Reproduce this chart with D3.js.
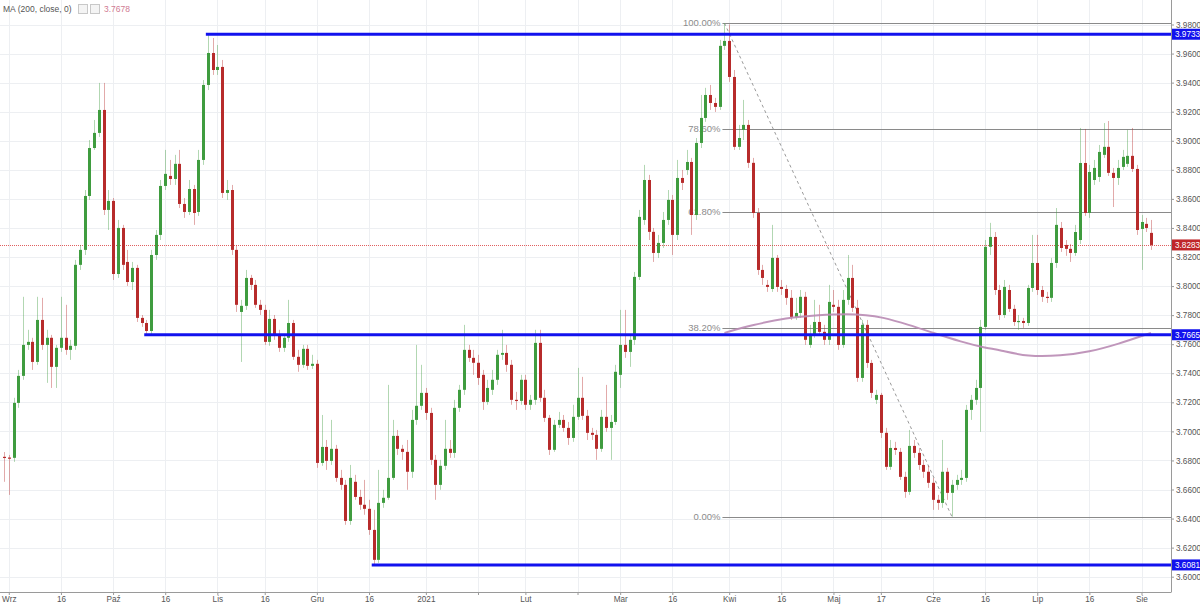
<!DOCTYPE html>
<html><head><meta charset="utf-8">
<script src="https://cdn.jsdelivr.net/npm/d3@7/dist/d3.min.js"></script>
<style>html,body{margin:0;padding:0;background:#fff;}svg{display:block;font-family:"Liberation Sans",Arial,sans-serif;}</style>
</head><body>
<svg id="chart" width="1200" height="604"></svg>
<script>
// ---- DATA (USD/PLN daily, weekdays 2020-08-31 .. 2021-08-04) ----
const firstDay = "2020-08-31", lastDay = "2021-08-04";
const open = [
3.6825,3.6820,3.6818,3.7196,3.7382,3.7595,3.7616,3.7478,3.7767,3.7595,
3.7644,3.7444,3.7575,3.7644,3.7561,3.7589,3.8146,3.8249,3.8620,3.8950,
3.9054,3.9212,3.8524,3.8586,3.8083,3.8400,3.8166,3.8028,3.8125,3.7781,
3.7746,3.7691,3.8214,3.8352,3.8689,3.8758,3.8737,3.8841,3.8565,3.8510,
3.8668,3.8510,3.8868,3.9384,3.9604,3.9487,3.9508,3.8641,3.8661,3.8249,
3.7822,3.7864,3.8056,3.8008,3.7871,3.7836,3.7616,3.7774,3.7664,3.7575,
3.7644,3.7746,3.7513,3.7458,3.7568,3.7451,3.7465,3.6783,3.6893,3.6797,
3.6880,3.6680,3.6632,3.6384,3.6653,3.6549,3.6495,3.6467,3.6322,3.6116,
3.6508,3.6543,3.6680,3.6969,3.6880,3.6859,3.6722,3.7079,3.7176,3.7265,
3.7127,3.6804,3.6632,3.6763,3.6880,3.6852,3.7162,3.7286,3.7561,3.7506,
3.7472,3.7389,3.7203,3.7286,3.7355,3.7527,3.7540,3.7458,3.7217,3.7210,
3.7355,3.7183,3.7217,3.7609,3.7231,3.7093,3.6873,3.7045,3.7079,3.7024,
3.6955,3.7100,3.7231,3.7107,3.6990,3.6976,3.6880,3.7100,3.7024,3.7065,
3.7389,3.7595,3.7547,3.7630,3.8063,3.8455,3.8730,3.8373,3.8228,3.8297,
3.8455,3.8593,3.8352,3.8744,3.8799,3.8854,3.8489,3.8985,3.9157,3.9315,
3.9260,3.9233,3.9653,3.9687,3.9439,3.8958,3.9075,3.9109,3.8848,3.8503,
3.8111,3.8008,3.7980,3.8194,3.7994,3.7980,3.7919,3.7788,3.7815,3.7926,
3.7595,3.7664,3.7753,3.7685,3.7630,3.7871,3.7857,3.7595,3.7905,3.8056,
3.7850,3.7368,3.7733,3.7471,3.7217,3.7251,3.6990,3.6756,3.6886,3.6859,
3.6687,3.6584,3.6900,3.6852,3.6769,3.6722,3.6646,3.6529,3.6508,3.6722,
3.6577,3.6632,3.6666,3.6680,3.7148,3.7217,3.7299,3.7719,3.8270,3.8338,
3.7973,3.7801,3.7973,3.7843,3.7753,3.7760,3.7746,3.7987,3.8159,3.7973,
3.7926,3.7919,3.8159,3.8400,3.8283,3.8256,3.8228,3.8317,3.8847,3.8503,
3.8730,3.8751,3.8903,3.8958,3.8779,3.8744,3.8820,3.8841,3.8896,3.8806,
3.8393,3.8428,3.8366];
const high = [
3.6858,3.6838,3.7231,3.7423,3.7926,3.7699,3.7644,3.7926,3.7919,3.7699,
3.7664,3.7595,3.7926,3.7871,3.7630,3.8180,3.8283,3.8661,3.9005,3.9143,
3.9398,3.9398,3.8661,3.8606,3.8455,3.8421,3.8249,3.8166,3.8146,3.7801,
3.7767,3.8249,3.8386,3.8730,3.8937,3.8868,3.8903,3.8937,3.8606,3.8730,
3.8696,3.8937,3.9418,3.9733,3.9707,3.9659,3.9556,3.8730,3.8696,3.8283,
3.7905,3.8111,3.8077,3.8042,3.7905,3.7871,3.7836,3.7801,3.7699,3.7671,
3.7905,3.7767,3.7561,3.7595,3.7595,3.7527,3.7492,3.7113,3.6941,3.7079,
3.6907,3.6735,3.6666,3.6769,3.6701,3.6598,3.6666,3.6529,3.6460,3.6735,
3.6598,3.7320,3.7079,3.7010,3.6907,3.6941,3.7148,3.7595,3.7458,3.7299,
3.7162,3.6838,3.6804,3.7079,3.6941,3.7217,3.7320,3.7733,3.7595,3.7561,
3.7527,3.7423,3.7355,3.7423,3.7561,3.7699,3.7595,3.7492,3.7272,3.7389,
3.7389,3.7251,3.7699,3.7699,3.7286,3.7113,3.7079,3.7134,3.7113,3.7065,
3.7183,3.7437,3.7375,3.7148,3.7024,3.7010,3.7148,3.7320,3.7113,3.7458,
3.7836,3.7836,3.7664,3.8097,3.8524,3.8834,3.8765,3.8400,3.8352,3.8510,
3.8661,3.8627,3.8868,3.8799,3.8937,3.8882,3.9019,3.9315,3.9364,3.9384,
3.9295,3.9694,3.9810,3.9800,3.9487,3.9109,3.9281,3.9143,3.8882,3.8537,
3.8146,3.8042,3.8421,3.8214,3.8042,3.8008,3.7973,3.7919,3.7973,3.7960,
3.7733,3.7905,3.7871,3.7733,3.8008,3.7973,3.7905,3.7973,3.8214,3.8146,
3.7905,3.7767,3.7767,3.7492,3.7286,3.7265,3.7024,3.6941,3.6928,3.6886,
3.6722,3.7010,3.6941,3.6886,3.6804,3.6763,3.6680,3.6563,3.6941,3.6749,
3.6666,3.6701,3.6735,3.7182,3.7251,3.7355,3.7767,3.8317,3.8435,3.8372,
3.8008,3.8042,3.8008,3.7871,3.7801,3.7781,3.8008,3.8352,3.8352,3.8001,
3.7960,3.8194,3.8537,3.8441,3.8317,3.8290,3.8421,3.9088,3.9081,3.8834,
3.8868,3.8971,3.9122,3.9136,3.8813,3.8868,3.8937,3.9075,3.9088,3.8834,
3.8490,3.8469,3.8455];
const low = [
3.6653,3.6563,3.6790,3.7162,3.7355,3.7561,3.7423,3.7458,3.7561,3.7334,
3.7299,3.7299,3.7547,3.7527,3.7492,3.7561,3.8111,3.8214,3.8593,3.8937,
3.9026,3.8489,3.8386,3.8042,3.8056,3.8111,3.8001,3.7973,3.7753,3.7719,
3.7665,3.7670,3.8180,3.8317,3.8661,3.8696,3.8696,3.8537,3.8469,3.8489,
3.8421,3.8483,3.8834,3.9349,3.9453,3.9453,3.8606,3.8593,3.8214,3.7822,
3.7478,3.7836,3.7973,3.7850,3.7801,3.7595,3.7589,3.7630,3.7547,3.7547,
3.7616,3.7492,3.7410,3.7437,3.7423,3.7430,3.6749,3.6763,3.6735,3.6769,
3.6653,3.6598,3.6357,3.6357,3.6529,3.6460,3.6426,3.6288,3.6081,3.6095,
3.6474,3.6529,3.6666,3.6838,3.6804,3.6598,3.6680,3.7045,3.7148,3.7079,
3.6769,3.6529,3.6598,3.6735,3.6818,3.6818,3.7134,3.7251,3.7478,3.7389,
3.7320,3.7148,3.7183,3.7251,3.7320,3.7492,3.7410,3.7183,3.7148,3.7183,
3.7148,3.7148,3.7183,3.7203,3.7065,3.6838,3.6859,3.7024,3.6997,3.6907,
3.6928,3.7079,3.7079,3.6941,3.6941,3.6804,3.6859,3.6997,3.6804,3.7045,
3.7299,3.7506,3.7444,3.7595,3.8042,3.8421,3.8317,3.8166,3.8194,3.8263,
3.8421,3.8214,3.8317,3.8661,3.8765,3.8352,3.8455,3.8950,3.9130,3.9212,
3.9198,3.9212,3.9625,3.9405,3.8937,3.8937,3.9005,3.8813,3.8469,3.8077,
3.8008,3.7960,3.7960,3.7960,3.7939,3.7871,3.7767,3.7767,3.7781,3.7595,
3.7575,3.7644,3.7657,3.7595,3.7595,3.7822,3.7561,3.7575,3.7871,3.7822,
3.7341,3.7341,3.7437,3.7230,3.7189,3.6955,3.6735,3.6735,3.6838,3.6666,
3.6543,3.6563,3.6818,3.6735,3.6680,3.6611,3.6460,3.6460,3.6474,3.6529,
3.6413,3.6598,3.6632,3.6653,3.7079,3.7183,3.6997,3.7699,3.8214,3.7939,
3.7767,3.7781,3.7822,3.7726,3.7699,3.7712,3.7726,3.7960,3.7939,3.7891,
3.7884,3.7891,3.8125,3.8235,3.8208,3.8166,3.8208,3.8290,3.8483,3.8469,
3.8696,3.8717,3.8882,3.8758,3.8544,3.8696,3.8799,3.8820,3.8785,3.8352,
3.8111,3.8372,3.8249];
const close = [
3.6820,3.6818,3.7196,3.7382,3.7595,3.7616,3.7478,3.7767,3.7595,3.7644,
3.7444,3.7575,3.7644,3.7561,3.7589,3.8146,3.8249,3.8620,3.8950,3.9054,
3.9212,3.8524,3.8586,3.8083,3.8400,3.8146,3.8028,3.8125,3.7781,3.7746,
3.7691,3.8214,3.8352,3.8689,3.8772,3.8737,3.8841,3.8565,3.8510,3.8668,
3.8503,3.8868,3.9384,3.9604,3.9487,3.9508,3.8641,3.8661,3.8249,3.7871,
3.7864,3.8056,3.8008,3.7871,3.7836,3.7616,3.7774,3.7664,3.7575,3.7644,
3.7746,3.7513,3.7458,3.7568,3.7451,3.7465,3.6783,3.6893,3.6797,3.6880,
3.6680,3.6632,3.6384,3.6680,3.6549,3.6495,3.6467,3.6322,3.6116,3.6508,
3.6543,3.6680,3.6969,3.6880,3.6859,3.6722,3.7079,3.7176,3.7265,3.7127,
3.6804,3.6632,3.6763,3.6880,3.6852,3.7162,3.7286,3.7561,3.7506,3.7472,
3.7368,3.7203,3.7299,3.7355,3.7527,3.7540,3.7458,3.7217,3.7210,3.7355,
3.7183,3.7217,3.7609,3.7231,3.7093,3.6873,3.7045,3.7079,3.7024,3.6955,
3.7100,3.7231,3.7107,3.6990,3.6976,3.6880,3.7100,3.7024,3.7065,3.7410,
3.7595,3.7547,3.7630,3.8063,3.8476,3.8730,3.8373,3.8228,3.8297,3.8455,
3.8593,3.8352,3.8744,3.8710,3.8854,3.8489,3.8985,3.9157,3.9315,3.9260,
3.9233,3.9653,3.9687,3.9439,3.8958,3.9019,3.9109,3.8848,3.8503,3.8111,
3.8056,3.7994,3.8194,3.7994,3.7980,3.7919,3.7788,3.7815,3.7926,3.7630,
3.7664,3.7753,3.7685,3.7630,3.7891,3.7857,3.7595,3.7905,3.8056,3.7850,
3.7368,3.7733,3.7471,3.7265,3.7251,3.6990,3.6756,3.6886,3.6872,3.6687,
3.6584,3.6900,3.6852,3.6769,3.6722,3.6646,3.6529,3.6508,3.6722,3.6577,
3.6632,3.6666,3.6680,3.7148,3.7217,3.7299,3.7719,3.8270,3.8338,3.7973,
3.7801,3.7994,3.7843,3.7753,3.7760,3.7746,3.7987,3.8159,3.7973,3.7926,
3.7919,3.8159,3.8421,3.8262,3.8256,3.8228,3.8372,3.8847,3.8503,3.8785,
3.8813,3.8923,3.8958,3.8779,3.8744,3.8813,3.8889,3.8896,3.8806,3.8386,
3.8441,3.8400,3.8283];

// MA(200, close) readings
const maDates  = ["2021-03-31","2021-04-08","2021-04-19","2021-04-28","2021-05-06","2021-05-12","2021-05-17","2021-05-25","2021-06-01","2021-06-09","2021-06-16","2021-06-21","2021-06-29","2021-07-08","2021-07-16","2021-07-26","2021-08-04"];
const maValues = [3.7678,3.7733,3.7781,3.7801,3.7808,3.7801,3.7788,3.7733,3.7678,3.7616,3.7575,3.7561,3.7513,3.7520,3.7547,3.7600,3.7678];

// horizontal support/resistance lines
const levelValues = [3.9733, 3.7665, 3.6081];
const levelStart  = ["2020-10-29","2020-10-12","2020-12-17"];

// Fibonacci retracement
const fibHigh = 3.9810, fibLow = 3.6413;
const fibFrom = "2021-03-31", fibTo = "2021-06-07";
const fibRatios = [1, 0.786, 0.618, 0.382, 0];
const fibLabels = ["100.00%","78.60%","61.80%","38.20%","0.00%"];

// axis ticks
const tickDates  = ["2020-09-01","2020-09-16","2020-10-01","2020-10-16","2020-11-02","2020-11-16","2020-12-01","2020-12-16","2021-01-01","2021-01-18","2021-02-01","2021-02-16","2021-03-01","2021-03-16","2021-04-01","2021-04-16","2021-05-03","2021-05-17","2021-06-01","2021-06-16","2021-07-01","2021-07-16","2021-08-02"];
const tickLabels = ["Wrz","16","Paź","16","Lis","16","Gru","16","2021","","Lut","","Mar","16","Kwi","16","Maj","17","Cze","16","Lip","16","Sie"];
const priceTicks = [3.60,3.62,3.64,3.66,3.68,3.70,3.72,3.74,3.76,3.78,3.80,3.82,3.84,3.86,3.88,3.90,3.92,3.94,3.96,3.98];
const maLegend = "MA (200, close, 0)";
const maLast = 3.7678;
const lastClose = 3.8283;

// ---- BUILD ----
const dates = [];
{
  const end = new Date(lastDay + "T00:00:00Z");
  for (let d = new Date(firstDay + "T00:00:00Z"); d <= end; d.setUTCDate(d.getUTCDate() + 1)) {
    const wd = d.getUTCDay();
    if (wd > 0 && wd < 6) dates.push(d.toISOString().slice(0, 10));
  }
}
const idx = new Map(dates.map((d, i) => [d, i]));
const n = Math.min(dates.length, close.length);
const bars = d3.range(n).map(i => ({ i, o: open[i], h: high[i], l: low[i], c: close[i] }));

const W = 1171, H = 592;
const x = d3.scaleLinear().domain([idx.get("2020-09-01"), idx.get("2021-08-02")]).range([8.8, 1141.5]);
const y = d3.scaleLinear().domain([3.60, 3.98]).range([576.7, 24.5]);

const svg = d3.select("#chart");
svg.append("rect").attr("width", 1200).attr("height", 604).attr("fill", "#fff");
svg.append("defs").append("clipPath").attr("id", "plot").append("rect").attr("width", W).attr("height", H);
const g = svg.append("g").attr("clip-path", "url(#plot)");

// grid
g.append("g").selectAll("line").data(priceTicks).join("line")
  .attr("x1", 0).attr("x2", W).attr("y1", d => Math.round(y(d)) + 0.5).attr("y2", d => Math.round(y(d)) + 0.5)
  .attr("stroke", "#edeff2").attr("stroke-width", 1);
g.append("g").selectAll("line").data(tickDates).join("line")
  .attr("x1", d => Math.round(x(idx.get(d))) + 0.5).attr("x2", d => Math.round(x(idx.get(d))) + 0.5)
  .attr("y1", 0).attr("y2", H).attr("stroke", "#edeff2").attr("stroke-width", 1);

// fibonacci
const fx0 = x(idx.get(fibFrom)) - 2;
const fibVals = fibRatios.map(r => fibLow + (fibHigh - fibLow) * r);
g.append("g").selectAll("line").data(fibVals).join("line")
  .attr("x1", fx0).attr("x2", W).attr("y1", d => Math.round(y(d)) + 0.5).attr("y2", d => Math.round(y(d)) + 0.5)
  .attr("stroke", "#8a8a8a").attr("stroke-width", 1);
g.append("g").selectAll("text").data(fibVals).join("text")
  .attr("x", fx0 - 2).attr("y", d => y(d)).attr("dy", "0.35em").attr("text-anchor", "end")
  .attr("font-size", 9.5).attr("fill", "#8c8c8c").text((d, i) => fibLabels[i]);
g.append("line")
  .attr("x1", x(idx.get(fibFrom))).attr("y1", y(fibHigh)).attr("x2", x(idx.get(fibTo))).attr("y2", y(fibLow))
  .attr("stroke", "#9a9a9a").attr("stroke-width", 1).attr("stroke-dasharray", "3,3");

// last close dotted line
g.append("line").attr("x1", 0).attr("x2", W).attr("y1", Math.round(y(lastClose)) + 0.5).attr("y2", Math.round(y(lastClose)) + 0.5)
  .attr("stroke", "#e06060").attr("stroke-width", 1).attr("stroke-dasharray", "1,1");

// candles
const up = "#3f9c3f", dn = "#b72b2b";
const cg = g.append("g");
cg.selectAll("line").data(bars).join("line")
  .attr("x1", d => Math.round(x(d.i)) + 0.5).attr("x2", d => Math.round(x(d.i)) + 0.5)
  .attr("y1", d => y(d.h)).attr("y2", d => y(d.l))
  .attr("stroke", d => d.c >= d.o ? up : dn).attr("stroke-opacity", 0.4).attr("stroke-width", 1);
cg.selectAll("rect").data(bars).join("rect")
  .attr("x", d => Math.round(x(d.i)) - 1).attr("width", 3)
  .attr("y", d => y(Math.max(d.o, d.c)))
  .attr("height", d => Math.max(1.2, Math.abs(y(d.o) - y(d.c))))
  .attr("fill", d => d.c >= d.o ? up : dn);

// MA line
const maPts = maDates.map((d, i) => [x(idx.get(d)), y(maValues[i])]);
g.append("path").attr("d", d3.line().curve(d3.curveBasis)(maPts))
  .attr("fill", "none").attr("stroke", "#b98bb4").attr("stroke-width", 2).attr("stroke-opacity", 0.9);

// blue levels
g.append("g").selectAll("line").data(levelValues).join("line")
  .attr("x1", (d, i) => x(idx.get(levelStart[i])) - 2).attr("x2", W)
  .attr("y1", d => y(d)).attr("y2", d => y(d))
  .attr("stroke", "#1212ee").attr("stroke-width", 3);

// right axis
const ra = svg.append("g").attr("transform", `translate(${W},0)`);
ra.append("line").attr("x1", 0.5).attr("x2", 0.5).attr("y1", 0).attr("y2", H).attr("stroke", "#9a9a9a");
const ay = ra.append("g").call(d3.axisRight(y).tickValues(priceTicks).tickFormat(d3.format(".4f")).tickSize(3).tickPadding(2));
ay.select(".domain").remove();
ay.selectAll(".tick line").attr("stroke", "#9a9a9a");
ay.selectAll(".tick text").attr("font-size", 8.2).attr("fill", "#555").attr("font-family", "'Liberation Sans',Arial,sans-serif");

// price labels
const tags = [
  { v: levelValues[0], fill: "#1212ee" },
  { v: lastClose, fill: "#c0262a" },
  { v: levelValues[1], fill: "#1212ee" },
  { v: levelValues[2], fill: "#1212ee" }
];
const tg = ra.append("g").selectAll("g").data(tags).join("g").attr("transform", d => `translate(0,${y(d.v)})`);
tg.append("rect").attr("x", 1).attr("y", -5.5).attr("width", 28).attr("height", 11).attr("fill", d => d.fill);
tg.append("text").attr("x", 4).attr("dy", "0.35em").attr("font-size", 8.2).attr("fill", "#fff")
  .text(d => d3.format(".4f")(d.v));

// bottom axis
const ba = svg.append("g").attr("transform", `translate(0,${H})`);
ba.append("line").attr("x1", 0).attr("x2", W + 0.5).attr("y1", 0.5).attr("y2", 0.5).attr("stroke", "#9a9a9a");
const ax = ba.append("g").call(d3.axisBottom(x).tickValues(tickDates.map(d => idx.get(d)))
  .tickFormat((d, i) => tickLabels[i]).tickSize(3).tickPadding(1));
ax.select(".domain").remove();
ax.selectAll(".tick line").attr("stroke", "#9a9a9a");
ax.selectAll(".tick text").attr("font-size", 8.2).attr("fill", "#555").attr("font-family", "'Liberation Sans',Arial,sans-serif");

// legend
const lg = svg.append("g").attr("transform", "translate(3,9)");
lg.append("text").attr("x", 0).attr("y", 0).attr("dy", "0.35em").attr("font-size", 8.5).attr("fill", "#555").text(maLegend);
lg.append("rect").attr("x", 75.5).attr("y", -4.5).attr("width", 9).attr("height", 9).attr("fill", "#f4f4f4").attr("stroke", "#c8c8c8");
lg.append("rect").attr("x", 87.5).attr("y", -4.5).attr("width", 9).attr("height", 9).attr("fill", "#f4f4f4").attr("stroke", "#c8c8c8");
lg.append("text").attr("x", 101).attr("y", 0).attr("dy", "0.35em").attr("font-size", 8.5).attr("fill", "#d07a92").text(d3.format(".4f")(maLast));
</script>
</body></html>
